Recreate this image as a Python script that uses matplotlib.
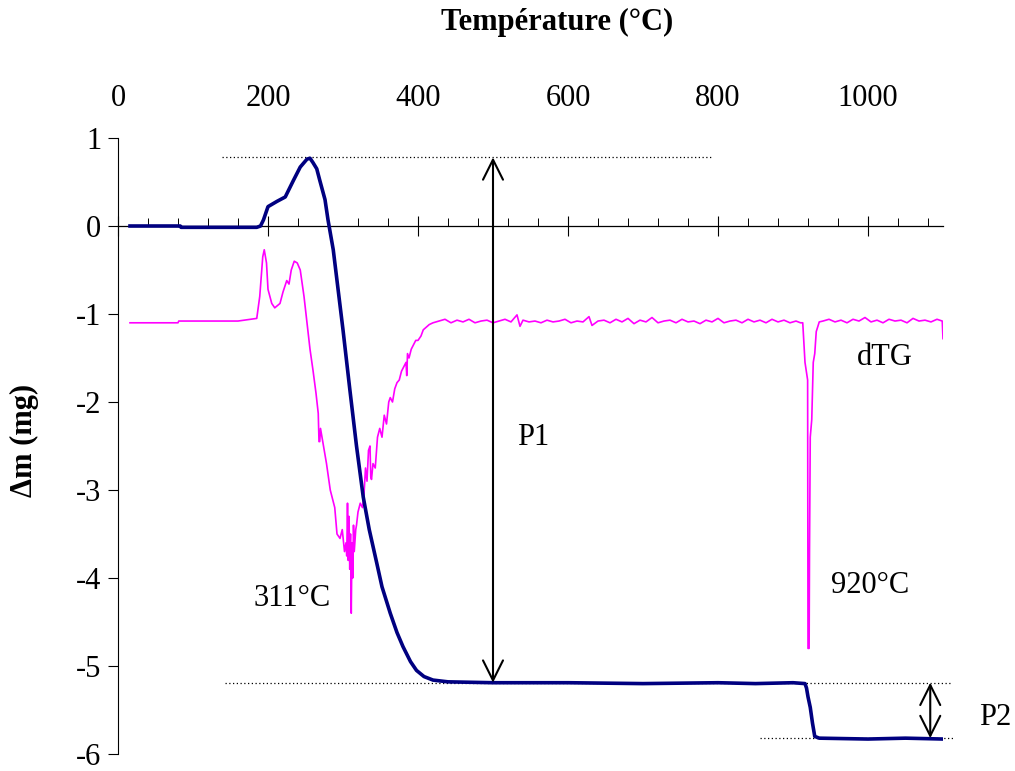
import matplotlib
matplotlib.use("Agg")
import matplotlib.pyplot as plt

plt.rcParams['font.family'] = ['Liberation Serif', 'DejaVu Serif']

# TG curve (mass change, mg) vs temperature (°C)
tg_T = [16, 60, 83, 84, 120, 185, 190, 194, 200, 212, 223, 234, 243, 252, 256, 260,
        265, 269, 276, 280, 287, 300, 309, 318, 327, 335, 345, 352, 363, 372, 380,
        390, 398, 408, 420, 440, 500, 600, 700, 800, 850, 900, 916, 918, 920, 923,
        926, 929, 935, 1000, 1050, 1100]
tg_m = [0, 0, 0, -0.015, -0.015, -0.015, 0.0, 0.07, 0.22, 0.28, 0.33, 0.52, 0.67, 0.76,
        0.77, 0.72, 0.65, 0.52, 0.3, 0.07, -0.27, -1.18, -1.85, -2.5, -3.08, -3.45,
        -3.83, -4.1, -4.4, -4.62, -4.78, -4.95, -5.05, -5.12, -5.16, -5.18, -5.19,
        -5.19, -5.2, -5.19, -5.2, -5.19, -5.2, -5.25, -5.35, -5.47, -5.65, -5.8,
        -5.82, -5.83, -5.82, -5.83]

# dTG curve (same axis, arbitrary offset)
dtg_T = [16, 50, 80, 81, 120, 160, 185, 189, 193, 195, 198, 200, 205, 209, 216, 220,
         225, 228, 231, 235, 239, 243, 248, 252, 256, 260, 264, 267, 268, 269, 270,
         274, 278, 283, 286, 289, 292, 296, 299, 302, 304, 305, 306, 307, 308, 309,
         310, 311, 312, 313, 314, 315, 317, 318, 320, 323, 326, 328, 330, 332, 334,
         336, 337, 338, 340, 343, 346, 349, 352, 355, 358, 361, 363, 366, 369, 372,
         375, 378, 381, 384, 385, 386, 388, 391, 394, 397, 400, 404, 407, 411, 415,
         420, 428, 436, 444, 452, 460, 468, 476, 484, 492, 500, 508, 516, 524, 532,
         536, 540, 548, 556, 564, 572, 580, 588, 596, 604, 612, 620, 628, 632, 640,
         648, 656, 664, 672, 680, 688, 696, 704, 712, 720, 728, 736, 744, 752, 760,
         768, 776, 784, 792, 800, 808, 816, 824, 832, 840, 848, 856, 864, 872, 880,
         888, 896, 904, 910, 913, 916, 919.5, 920, 921.5, 922, 923, 925, 927, 929,
         931, 935, 940, 948, 956, 964, 972, 980, 988, 996, 1004, 1012, 1020, 1028,
         1036, 1044, 1052, 1060, 1068, 1076, 1084, 1092, 1099, 1100]
dtg_v = [-1.1, -1.1, -1.1, -1.08, -1.08, -1.08, -1.05, -0.8, -0.35, -0.27, -0.42, -0.72,
         -0.88, -0.93, -0.88, -0.75, -0.62, -0.66, -0.5, -0.4, -0.42, -0.5, -0.8, -1.1,
         -1.4, -1.64, -1.9, -2.13, -2.45, -2.45, -2.3, -2.5, -2.7, -3.0, -3.1, -3.2,
         -3.5, -3.55, -3.45, -3.7, -3.6, -3.75, -3.15, -3.8, -3.3, -3.9, -3.5, -4.4,
         -3.6, -4.0, -3.4, -3.7, -3.45, -3.4, -3.25, -3.15, -3.2, -3.05, -2.75, -2.9,
         -2.55, -2.5, -2.85, -2.88, -2.7, -2.75, -2.4, -2.3, -2.4, -2.15, -2.25, -2.0,
         -1.95, -2.0, -1.85, -1.78, -1.75, -1.65, -1.6, -1.55, -1.7, -1.45, -1.5, -1.4,
         -1.35, -1.3, -1.3, -1.25, -1.18, -1.15, -1.12, -1.1, -1.08, -1.06, -1.10, -1.07,
         -1.09, -1.06, -1.10, -1.08, -1.07, -1.10, -1.08, -1.06, -1.09, -1.01, -1.14,
         -1.07, -1.09, -1.08, -1.10, -1.07, -1.09, -1.08, -1.06, -1.10, -1.08, -1.09,
         -1.03, -1.13, -1.08, -1.07, -1.10, -1.06, -1.09, -1.05, -1.11, -1.07, -1.09,
         -1.04, -1.10, -1.08, -1.07, -1.10, -1.06, -1.09, -1.08, -1.11, -1.07, -1.09,
         -1.05, -1.10, -1.08, -1.07, -1.10, -1.06, -1.09, -1.07, -1.10, -1.06, -1.09,
         -1.07, -1.10, -1.08, -1.10, -1.1, -1.55, -1.75, -4.8, -4.8, -3.72, -2.4, -2.2,
         -1.55, -1.45, -1.2, -1.09, -1.08, -1.06, -1.09, -1.07, -1.10, -1.06, -1.08,
         -1.04, -1.09, -1.07, -1.10, -1.06, -1.08, -1.07, -1.10, -1.05, -1.08, -1.07,
         -1.09, -1.06, -1.08, -1.28]

# annotation levels
y_top = 0.78
y_p1 = -5.19
y_p2 = -5.82

fig = plt.figure(figsize=(10.15, 7.71), dpi=100)
ax = fig.add_axes([118/1015, 17/771, 825/1015, 616/771])

ax.plot(dtg_T, dtg_v, color='#FF00FF', lw=1.2, zorder=2)
ax.plot(tg_T, tg_m, color='#000080', lw=2.6, zorder=3)

ax.set_xlim(0, 1100)
ax.set_ylim(-6, 1)

# axes styling
ax.spines['top'].set_visible(False)
ax.spines['right'].set_visible(False)
ax.spines['bottom'].set_position(('data', 0))
ax.spines['left'].set_linewidth(0.8)
ax.spines['bottom'].set_linewidth(0.9)
ax.set_xticks([0, 200, 400, 600, 800, 1000])
ax.set_xticks(range(0, 1101, 40), minor=True)
ax.tick_params(axis='x', which='major', direction='inout', length=14, width=0.8,
               labelbottom=False)
ax.tick_params(axis='x', which='minor', direction='in', length=5.5, width=0.7)
ax.set_yticks([1, 0, -1, -2, -3, -4, -5, -6])
ax.set_yticklabels(['1', '0', '-1', '-2', '-3', '-4', '-5', '-6'])
ax.tick_params(axis='y', direction='out', length=7, width=0.8, labelsize=22, pad=5)

sec = ax.secondary_xaxis('top')
sec.set_xticks([0, 200, 400, 600, 800, 1000])
sec.tick_params(length=0, labelsize=22, pad=18)
sec.spines['top'].set_visible(False)

fig.text(557/1015, 1 - 22/771, 'Température (°C)', fontsize=22, fontweight='bold',
         ha='center', va='center')
fig.text(24/1015, 1 - 440/771, 'Δm (mg)', fontsize=22, fontweight='bold',
         rotation=90, ha='center', va='center')

# dotted reference lines
ax.plot([138, 792], [y_top, y_top], color='black', lw=0.9, ls=(0, (1, 2)), clip_on=False)
ax.plot([143, 1109], [y_p1, y_p1], color='black', lw=0.9, ls=(0, (1, 2)), clip_on=False)
ax.plot([856, 1113], [y_p2, y_p2], color='black', lw=0.9, ls=(0, (1, 2)), clip_on=False)

arrow = dict(arrowstyle='<->,head_length=0.9,head_width=0.45', lw=1.5, color='black',
             mutation_scale=16, shrinkA=0, shrinkB=0)
ax.annotate('', xy=(500, y_top), xytext=(500, y_p1), arrowprops=arrow, zorder=4)
ax.annotate('', xy=(1083, y_p1), xytext=(1083, y_p2), arrowprops=arrow,
            annotation_clip=False, zorder=4)

ax.text(553, -2.4, 'P1', fontsize=22, ha='center', va='center')
ax.text(1023, -1.5, 'dTG', fontsize=22, ha='center', va='center')
ax.text(232, -4.23, '311°C', fontsize=22, ha='center', va='center')
ax.text(1003, -4.08, '920°C', fontsize=22, ha='center', va='center')
ax.text(1169, -5.58, 'P2', fontsize=22, ha='center', va='center', clip_on=False)

fig.savefig('out.png', dpi=100)
